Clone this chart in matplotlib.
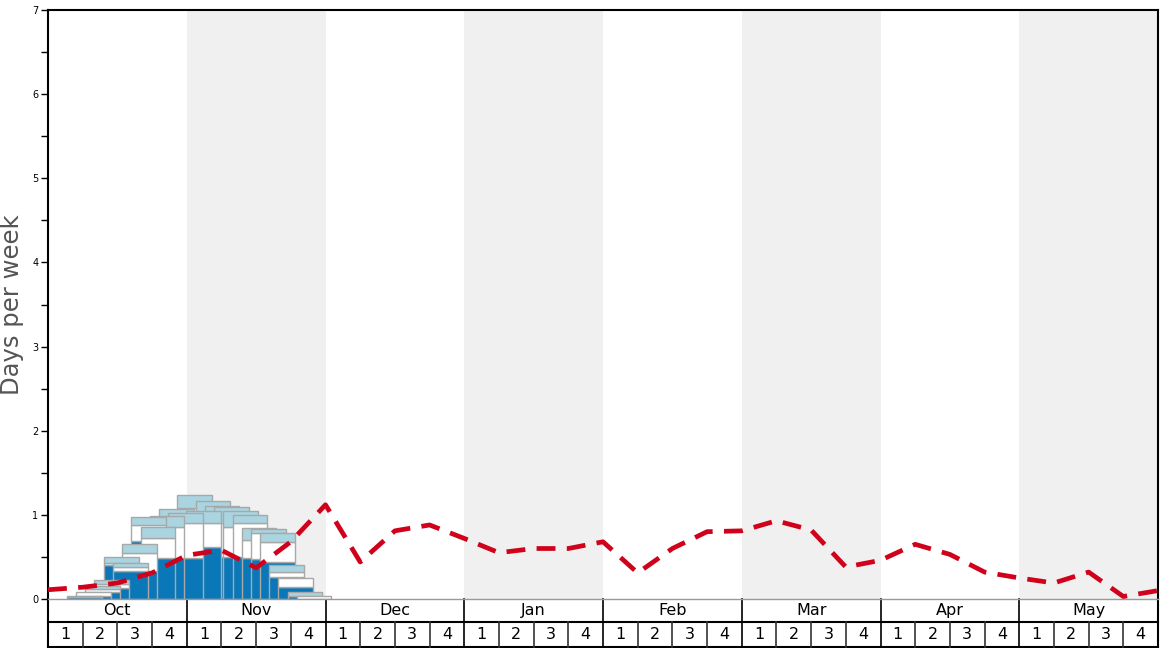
import matplotlib.pyplot as plt
import numpy as np

months = ["Oct", "Nov", "Dec", "Jan", "Feb", "Mar", "Apr", "May"]
week_labels = ["1", "2", "3", "4"]

# historical snow days: start (weeks from 1 Oct), blue part, white top, light-blue top
hist_start = [0.55, 0.81, 1.08, 1.34, 1.61, 1.87, 2.14, 2.40, 2.67, 2.93, 3.20, 3.46, 3.73,
              3.99, 4.26, 4.52, 4.79, 5.05, 5.32, 5.58, 5.85, 6.11, 6.38, 6.64, 6.91, 7.17]
hist_blue = [0.02, 0.04, 0.08, 0.13, 0.40, 0.33, 0.33, 0.69, 0.49, 0.49, 0.49, 0.49, 0.49,
             0.62, 0.64, 0.50, 0.50, 0.50, 0.50, 0.49, 0.48, 0.44, 0.26, 0.14, 0.04, 0.00]
hist_white = [0.02, 0.08, 0.12, 0.18, 0.43, 0.38, 0.55, 0.88, 0.72, 0.85, 0.98, 0.90, 1.08,
              0.90, 0.97, 0.93, 0.90, 0.86, 0.90, 0.70, 0.78, 0.68, 0.32, 0.25, 0.04, 0.03]
hist_light = [0.03, 0.08, 0.15, 0.23, 0.50, 0.43, 0.65, 0.97, 0.85, 0.99, 1.07, 1.02, 1.24,
              1.05, 1.16, 1.10, 1.09, 1.04, 1.00, 0.84, 0.83, 0.78, 0.40, 0.25, 0.08, 0.03]

# average days per week (week boundaries, Oct 1 .. end of May)
avg_days = [0.11, 0.14, 0.19, 0.31, 0.52, 0.58, 0.37, 0.68, 1.12,
            0.44, 0.81, 0.88, 0.72, 0.55, 0.60, 0.60, 0.68,
            0.31, 0.60, 0.80, 0.81, 0.93, 0.82, 0.38, 0.46,
            0.65, 0.53, 0.32, 0.25, 0.19, 0.32, 0.03, 0.10]

fig = plt.figure(figsize=(11.68, 6.48), dpi=100)
ax = fig.add_axes([48/1168, 49/648, 1110/1168, 589/648])

nweeks = len(months) * 4
for m in range(1, len(months), 2):
    ax.axvspan(m*4, m*4 + 4, color="#f0f0f0", zorder=0, lw=0)

blue = np.array(hist_blue)
white = np.array(hist_white)
light = np.array(hist_light)
# taller ranges go behind, shorter ones in front
order = np.argsort(-light, kind="stable")
for n, i in enumerate(order):
    z = 2 + n*0.01
    ax.bar(hist_start[i], blue[i], width=1, align="edge", color="#0a77b8",
           edgecolor="#a8a8a8", lw=1, zorder=z)
    ax.bar(hist_start[i], white[i] - blue[i], bottom=blue[i], width=1, align="edge",
           color="white", edgecolor="#a8a8a8", lw=1, zorder=z)
    if light[i] > white[i]:
        ax.bar(hist_start[i], light[i] - white[i], bottom=white[i], width=1, align="edge",
               color="#a9d4e0", edgecolor="#a8a8a8", lw=1, zorder=z)

ax.plot(np.arange(nweeks + 1), avg_days, color="#d0021b", lw=3.4,
        dashes=(4, 2.4), zorder=10, solid_capstyle="butt")

ax.set_xlim(0, nweeks)
ax.set_ylim(0, 7)
ax.set_xticks([])
ax.set_yticks(range(8))
ax.set_yticks(np.arange(0.5, 7, 1), minor=True)
ax.tick_params(axis="y", which="both", length=5, width=1, labelsize=7, pad=2)
for s in ["left", "top", "right"]:
    ax.spines[s].set_color("black")
    ax.spines[s].set_linewidth(1.5)
ax.spines["bottom"].set_color("#999999")
ax.spines["bottom"].set_linewidth(1)

# month / week table under the axis
tr = ax.get_xaxis_transform()
h = 589.0
y1 = -23/h
y2 = -48/h
ax.plot([0, nweeks], [y1, y1], color="black", lw=1.5, transform=tr, clip_on=False)
ax.plot([0, nweeks], [y2, y2], color="black", lw=1.5, transform=tr, clip_on=False)
for wk in range(nweeks + 1):
    if wk % 4 == 0:
        ax.plot([wk, wk], [0, y2], color="black", lw=1.5 if wk in (0, nweeks) else 1.2,
                transform=tr, clip_on=False)
    else:
        ax.plot([wk, wk], [y1, y2], color="#333333", lw=1.2, transform=tr, clip_on=False)
for m, name in enumerate(months):
    ax.text(m*4 + 2, (0 + y1)/2, name, transform=tr, ha="center", va="center", fontsize=11.5)
    for j, lab in enumerate(week_labels):
        ax.text(m*4 + j + 0.5, (y1 + y2)/2, lab, transform=tr, ha="center", va="center",
                fontsize=11.5)

fig.text(12/1168, 1 - 305/648, "Days per week", rotation=90, ha="center", va="center",
         fontsize=17.5, color="#555555")

fig.savefig("out.png", dpi=100)
